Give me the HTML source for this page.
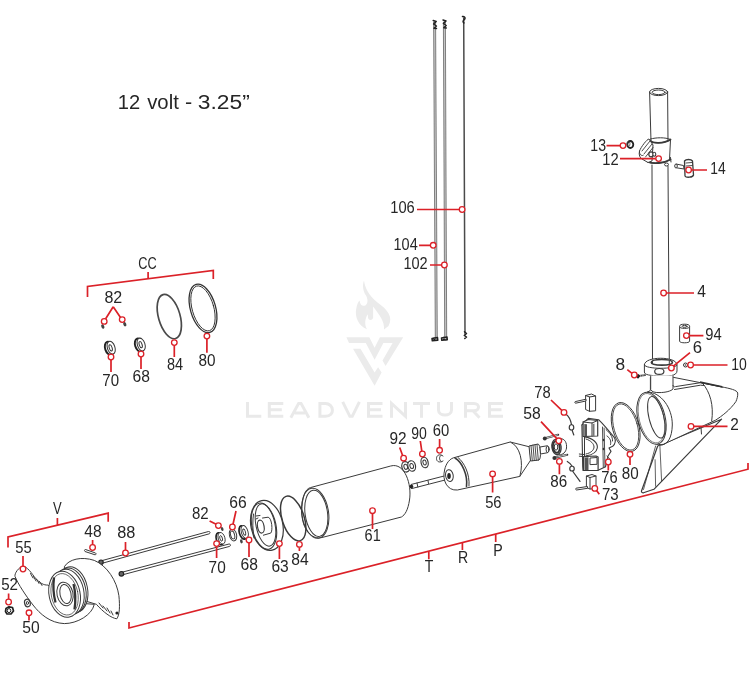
<!DOCTYPE html>
<html><head><meta charset="utf-8">
<style>
html,body{margin:0;padding:0;background:#fff;width:750px;height:700px;overflow:hidden}
svg{display:block;will-change:transform}
text{font-family:"Liberation Sans",sans-serif;fill:#262626}
.p{fill:none;stroke:#3a3a3a;stroke-width:1;stroke-linejoin:round;stroke-linecap:round}
.pf{fill:#fff;stroke:#3a3a3a;stroke-width:1;stroke-linejoin:round}
.r{fill:none;stroke:#db2128;stroke-width:1.7;stroke-linecap:butt}
.c{fill:#fff;stroke:#db2128;stroke-width:1.3}
.lb{font-size:16px}
.wm{fill:#ebebeb}
</style></head>
<body>
<svg width="750" height="700" viewBox="0 0 750 700">
<!-- watermark -->
<g class="wm">
<path d="M364 280.5 C365 288 368.5 295 377.5 302.5 C387.5 309.5 393.5 317 388.5 326 L384 329.5 C384.7 321.2 379.3 315 373.1 306.5 L373.1 318.1 C372.4 320.4 368.5 320.8 368.1 318.1 L367.7 314.3 C365.4 318.1 363.9 324.3 367 329.3 C358.5 325.8 354.6 316.6 356.2 308.9 C356.9 304.2 358.5 301.1 359.6 300.4 C360 304.2 361.6 306.2 364.3 305.8 C367.7 305 368.5 300.4 366.2 295.7 C362.8 291 362.3 285 364 280.5Z"/>
<path d="M346.4 337.3 L369.3 337.3 L374.6 347.8 L379.9 337.3 L403.2 337.3 L385.6 365.9 L382.5 360.6 L392.6 343 L383.4 343 L374.6 359.7 L365.8 343 L349 343Z"/>
<path d="M353 348.7 L360.5 348.7 L374.6 372.5 L378.1 367.2 L381.6 372.5 L374.6 385.7Z"/>
<path d="M247.5 401.9 L247.5 416.3 L261.3 416.3 M283.3 403.4 L269.3 403.4 L269.3 416.3 L283.3 416.3 M269.3 409.8 L281.8 409.8 M290.8 417.8 L298.65000000000003 403.4 L301.05 403.4 L308.9 417.8 M294.8 412.9 L304.9 412.9 M319.9 403.4 L319.9 416.3 L325.4 416.3 C335.7 416.3 333.7 403.4 325.4 403.4 Z M342.7 401.9 L349.84999999999997 416.3 L352.24999999999994 416.3 L359.4 401.9 M382.5 403.4 L368.5 403.4 L368.5 416.3 L382.5 416.3 M368.5 409.8 L381.0 409.8 M391.5 417.8 L391.5 403.4 L405.5 416.3 L405.5 401.9 M413 403.4 L430 403.4 M421.5 403.4 L421.5 417.8 M438.5 401.9 L438.5 410 C438.5 416.8 451.5 416.8 451.5 410 L451.5 401.9 M465.5 417.8 L465.5 403.4 L474 403.4 C480 403.4 480 410.8 474 410.8 L465.5 410.8 M473 410.8 L479.5 417.8 M503 403.4 L489.5 403.4 L489.5 416.3 L503 416.3 M489.5 409.8 L501.5 409.8" fill="none" stroke="#e9e9e9" stroke-width="3" stroke-linejoin="miter"/>
</g>

<!-- title -->
<g style="font-size:20.5px">
<text x="117.8" y="109.3" textLength="22.4" lengthAdjust="spacingAndGlyphs">12</text>
<text x="147.2" y="109.3" textLength="31.6" lengthAdjust="spacingAndGlyphs">volt</text>
<text x="185" y="109.3" textLength="7.2" lengthAdjust="spacingAndGlyphs">-</text>
<text x="197.8" y="109.3" textLength="52" lengthAdjust="spacingAndGlyphs">3.25”</text>
</g>

<!-- long red bracket -->

<!-- CC bracket -->

<!-- V bracket -->

<!-- rods 102 104 106 -->
<path d="M433.6 22 L435.3 340 L437.3 340 L435.6 22Z" fill="#c8c8c8" stroke="#555" stroke-width="0.7"/>
<path d="M443.4 22 L444.7 340 L446.7 340 L445.4 22Z" fill="#c8c8c8" stroke="#555" stroke-width="0.7"/>
<path class="p" d="M463.7 18 L465 334" style="stroke-width:1.5;stroke:#4a4a4a"/>
<g fill="none" stroke="#222" stroke-width="1.5" stroke-linecap="round" stroke-linejoin="round">
<path d="M433.2 20.5 L436.2 21.5 L433.6 24 L436.4 26 L434 28.2 L436.5 28.5"/>
<path d="M443 20 L446 21 L443.4 23.5 L446.2 25.5 L443.8 27.8 L446.3 28"/>
<path d="M462.5 16.5 C465 16 466 18.5 464 20 C462.5 21 463 22.5 464 23"/>
<path d="M432 338.5 L437.5 337.5 L437.8 340.3 L432.3 340.8 Z M434 338 L434.3 340.5"/>
<path d="M441.5 338 L447 337 L447.3 339.8 L441.8 340.3 Z M443.5 337.5 L443.8 340"/>
<path d="M464.5 331.8 L466.5 333.5 L464.3 335.5 L466.5 337 L464.8 338.5"/>
</g>


<!-- POLE -->
<g>
<!-- upper tube -->
<path class="p" d="M649.6 92 L651 141 M667.6 92 L668 141"/>
<ellipse class="p" cx="658.6" cy="92" rx="9" ry="3.6"/>
<ellipse class="p" cx="658.6" cy="92.3" rx="6.5" ry="2.3"/>
<!-- clamp collar 12 -->
<path class="pf" d="M650 140.5 C652 143.5 664 144 670.5 139.5 L669.5 160 C664 163.5 653 164 648 162 Z"/>
<path class="p" d="M650 140.5 C652 143.5 664 144 670.5 139.5" style="stroke-width:1.8"/>
<path class="p" d="M650.5 139 C656 137.5 665 137 670.5 139.5" style="stroke-width:1"/>
<path class="p" d="M648 162 C653 164 664 163.5 670.5 159.5" style="stroke-width:1.8"/>
<path class="p" d="M670.5 157.5 L671 162"/>
<ellipse class="pf" cx="666.5" cy="164.5" rx="2" ry="1.5"/>
<path class="pf" d="M649 139 C647 139 641 147 639.5 151 C638.5 155 640 158 642 159 L648 162.5 L652 161 L653 145 Z"/>
<path class="p" d="M642 151 L650 141 M644 154 L652 144 M645.5 157 L653 147.5" style="stroke-width:0.9"/>
<path class="p" d="M639.5 151 C639 154 641 156 643 155.5"/>
<ellipse class="pf" cx="651" cy="154.3" rx="2.2" ry="2.5" style="stroke-width:1.2"/>
<ellipse class="pf" cx="654.3" cy="154.3" rx="1.5" ry="2" style="stroke-width:1.1"/>
<!-- 13 nut -->
<ellipse cx="630.3" cy="144.5" rx="3" ry="3.5" fill="#fff" stroke="#222" stroke-width="1.8"/>
<ellipse cx="628.5" cy="143.8" rx="1.5" ry="2.5" fill="none" stroke="#444" stroke-width="0.8"/>
<!-- 14 knob -->
<path class="pf" d="M676 164 L683.5 165.5 L684 169 L676.5 167.8 Z"/>
<ellipse class="pf" cx="676" cy="166" rx="1.3" ry="2" style="stroke-width:1"/>
<path class="pf" d="M684.5 161 C686 159 691 159 692.5 161 L693.5 175 C693 177.5 686 178 685 176 Z" style="stroke-width:1.3"/>
<path class="p" d="M686 163 L692 162.5 M686.3 166 L692.5 165.5" style="stroke-width:0.9"/>
<!-- lower tube -->
<path class="p" d="M652 165 L652.5 361 M668 166 L669.3 361"/>
<!-- collar 6 -->
<path class="pf" d="M644.4 365 C644.4 356 677 356 677 365 L677 370.9 C677 376 668 376.5 660 376 C650 375.5 644.4 375 644.4 372 Z"/>
<path class="p" d="M644.4 365 C645 369.5 676.5 369.5 677 365"/>
<path class="pf" d="M651.3 362.5 C651.3 358.5 672.4 358.5 672.4 362.5 C672.4 366 651.3 366 651.3 362.5Z" style="stroke-width:1.6"/>
<path class="p" d="M652.5 361 L652.5 363.5 M669.3 361 L669.3 363.5"/>
<ellipse class="pf" cx="659.3" cy="371.4" rx="4.6" ry="2.9" style="stroke-width:1.2"/>
<!-- neck -->
<!-- 94 -->
<path class="pf" d="M679.6 326.3 L679.6 341.3 C680 343.3 689.2 343.3 689.6 341.3 L689.6 326.3"/>
<ellipse class="pf" cx="684.6" cy="326.3" rx="5" ry="2.1"/>
<ellipse class="p" cx="684.6" cy="326.3" rx="2.5" ry="1"/>
<!-- 8 bolt -->
<path d="M639 376 L645 375.2" stroke="#333" stroke-width="1.8" stroke-linecap="round"/>
<path d="M640.5 374.8 L640.7 377 M642.2 374.6 L642.4 376.8 M643.8 374.4 L644 376.6" stroke="#fff" stroke-width="0.5"/>
<ellipse cx="638" cy="376.2" rx="1.5" ry="2.2" fill="#222"/>
<!-- 10 washer -->
<circle cx="685.5" cy="365" r="2" fill="#fff" stroke="#333" stroke-width="1"/>
<circle cx="685.5" cy="365" r="0.7" fill="#333"/>
</g>

<!-- HOUSING 2 -->
<g>
<path class="pf" d="M657.7 446 L641.4 491.2 C641.5 492.5 642.5 493 643.5 492.8 L653.9 489.3 L721.6 419.2 Z" style="stroke-width:1.2"/>
<path class="p" d="M655.6 446 L643.5 489.5 M659.9 446 L661.6 481.1 M655.1 459.7 L655.6 486.3" style="stroke-width:0.8"/>
<path class="pf" d="M650.4 377.4 L673.7 377.4 L721 386.7 C730 388.5 737 390 737.7 393 C738 396 737 399 735.9 401.6 C730 410 722 416 715.5 420.2 L663.4 444.3 C655 446 645 440 640 425 C636 410 640 395 650.4 390.4 Z"/>

<path class="pf" d="M650.7 375.5 L650.7 389.7 C652 392 655 392.6 659 392.6 C666 392.6 671 391 673 389 L673 375.5"/>
<path class="p" d="M673 385.5 C673.5 387 674.5 387 675.5 386.6 L700.5 382.7 L722.5 387.2 M674.5 389.5 L700.5 385.2 L704 385.5"/>
<path class="p" d="M702.7 383.4 C710 392 714 405 711.7 421"/>
<path d="M700 382 L722 386.7" stroke="#333" stroke-width="1.6"/>
<path class="p" d="M701 427.5 L701.5 434"/>
<ellipse class="pf" cx="651.5" cy="418.2" rx="13.6" ry="26.6" transform="rotate(-14 651.5 418.2)"/>
<path class="p" d="M647.5 392 C661 392 672.5 408 672.3 425 C672 438 667.5 445 660.6 445.2"/>
<ellipse class="p" cx="656.4" cy="417.3" rx="7.4" ry="21.3" transform="rotate(-14 656.4 417.3)"/>
<ellipse class="p" cx="651.5" cy="418.2" rx="12.3" ry="25.3" transform="rotate(-14 651.5 418.2)" style="stroke-width:0.6"/>
</g>
<!-- 80 o-ring at housing -->
<ellipse class="p" cx="625.7" cy="427" rx="13.2" ry="25.2" transform="rotate(-16 625.7 427)" style="stroke-width:0.9;stroke:#333"/>
<ellipse class="p" cx="625.7" cy="427" rx="11.8" ry="23.8" transform="rotate(-16 625.7 427)" style="stroke-width:0.8;stroke:#333"/>

<!-- pole labels -->


<!-- CC group -->
<ellipse class="p" cx="169.3" cy="316.6" rx="10.8" ry="22.8" transform="rotate(-16 169.3 316.6)" style="stroke-width:1.7;stroke:#4a4a4a"/>
<ellipse class="p" cx="203" cy="308.4" rx="12.6" ry="25" transform="rotate(-16 203 308.4)" style="stroke-width:1.3;stroke:#333"/>
<ellipse class="p" cx="203" cy="308.4" rx="10.8" ry="23.2" transform="rotate(-16 203 308.4)" style="stroke-width:0.9;stroke:#333"/>
<g transform="translate(110.3 348.0) rotate(-18) scale(1.0)"><ellipse cx="-1.2" cy="0" rx="4" ry="6.8" fill="#fff" stroke="#222" stroke-width="1.9"/><ellipse cx="0.9" cy="0" rx="3.8" ry="6.6" fill="#fff" stroke="#333" stroke-width="1"/><ellipse cx="0.4" cy="0" rx="1.4" ry="3.2" fill="none" stroke="#333" stroke-width="1"/></g>
<g transform="translate(140.3 344.8) rotate(-18) scale(1.0)"><ellipse cx="-1.2" cy="0" rx="4" ry="6.8" fill="#fff" stroke="#222" stroke-width="1.9"/><ellipse cx="0.9" cy="0" rx="3.8" ry="6.6" fill="#fff" stroke="#333" stroke-width="1"/><ellipse cx="0.4" cy="0" rx="1.4" ry="3.2" fill="none" stroke="#333" stroke-width="1"/></g>
<ellipse cx="102.8" cy="326.5" rx="1.5" ry="2.3" fill="#444" transform="rotate(-20 102.8 326.5)"/>
<ellipse cx="124.8" cy="324.2" rx="1.5" ry="2.3" fill="#444" transform="rotate(-20 124.8 324.2)"/>

<!-- MOTOR CAN 61 -->
<path class="pf" d="M310.4 487.6 L390.7 466 C405 462 412 485 409.5 500 C408 510 405 515 401.4 517 L322 537.5 C312 540 302 530 301.8 512 C302 497 305 489 310.4 487.6Z"/>
<ellipse class="p" cx="315.2" cy="513.3" rx="13.4" ry="25.2" transform="rotate(-8 315.2 513.3)"/>
<ellipse class="p" cx="316.3" cy="513.3" rx="11.2" ry="23.3" transform="rotate(-8 316.3 513.3)"/>
<!-- 84 o-ring -->
<ellipse class="p" cx="293.2" cy="518.5" rx="11" ry="23.3" transform="rotate(-18 293.2 518.5)" style="stroke-width:1.5;stroke:#3a3a3a"/>
<!-- END CAP 63 -->
<g>
<ellipse class="pf" cx="266.9" cy="525.4" rx="15.9" ry="25.3" transform="rotate(-12 266.9 525.4)" style="stroke-width:1.2"/>
<ellipse class="p" cx="264" cy="526.2" rx="12" ry="23.5" transform="rotate(-12 264 526.2)" style="stroke-width:1.1"/>
<ellipse class="p" cx="265.5" cy="525" rx="9.5" ry="21.5" transform="rotate(-12 265.5 525)"/>
<path class="p" d="M253.5 514 C252.5 520 252.5 530 254 538"/>
<path class="pf" d="M262.1 518.1 L268.1 517.2 C272 518 273 531 270.7 533.1 L263 535.3"/>
<ellipse class="pf" cx="260.8" cy="526.6" rx="3.3" ry="6.5" transform="rotate(-10 260.8 526.6)" style="stroke-width:1.2"/>
<path class="p" d="M256 516 L260 515.5 M256 519 L258 518"/>
</g>
<!-- RODS 88 -->
<path class="pf" d="M100.5 561 L208.5 531.5 C210 531 210.7 533.3 209.3 533.8 L101.3 563.5 Z"/>
<path class="pf" d="M121 572.5 L229 544 C230.5 543.6 231 546 229.6 546.4 L121.8 575 Z"/>
<circle cx="101" cy="562.2" r="2.2" fill="#666" stroke="#222" stroke-width="1.2"/>
<circle cx="121.4" cy="573.8" r="2.3" fill="#666" stroke="#222" stroke-width="1.2"/>
<!-- bearings 70 68 66 82 -->
<g transform="translate(220.8 538.5) rotate(-16) scale(0.88 0.9)"><ellipse cx="-1.2" cy="0" rx="4" ry="6.8" fill="#fff" stroke="#222" stroke-width="1.9"/><ellipse cx="0.9" cy="0" rx="3.8" ry="6.6" fill="#fff" stroke="#333" stroke-width="1"/><ellipse cx="0.4" cy="0" rx="1.4" ry="3.2" fill="none" stroke="#333" stroke-width="1"/></g>
<g transform="translate(243.9 532.2) rotate(-16) scale(0.88 1.0)"><ellipse cx="-1.2" cy="0" rx="4" ry="6.8" fill="#fff" stroke="#222" stroke-width="1.9"/><ellipse cx="0.9" cy="0" rx="3.8" ry="6.6" fill="#fff" stroke="#333" stroke-width="1"/><ellipse cx="0.4" cy="0" rx="1.4" ry="3.2" fill="none" stroke="#333" stroke-width="1"/></g>
<ellipse class="p" cx="233" cy="535" rx="3.6" ry="6" transform="rotate(-14 233 535)"/>
<ellipse class="p" cx="232.6" cy="535" rx="2" ry="4" transform="rotate(-14 232.6 535)"/>
<ellipse cx="222.2" cy="529" rx="1.3" ry="2.1" fill="#444" transform="rotate(-15 222.2 529)"/>
<ellipse cx="241.4" cy="541.3" rx="1.3" ry="2.1" fill="#444" transform="rotate(-15 241.4 541.3)"/>


<!-- washers 92 90 60 -->
<g transform="rotate(-14 405.7 466.8)"><ellipse class="pf" cx="405.7" cy="466.8" rx="3.8" ry="5.3" style="stroke-width:1.2"/><ellipse class="p" cx="405.7" cy="466.8" rx="1.8" ry="2.6"/></g>
<g transform="rotate(-14 411.7 466)"><ellipse class="pf" cx="411.7" cy="466" rx="3.8" ry="5.3" style="stroke-width:1.2"/><ellipse class="p" cx="411.7" cy="466" rx="1.8" ry="2.6"/></g>
<g transform="rotate(-14 424.6 462.5)"><ellipse class="pf" cx="424.6" cy="462.5" rx="3.5" ry="5.3" style="stroke-width:1.2"/><ellipse class="p" cx="424.6" cy="462.5" rx="1.6" ry="2.5"/></g>
<path class="p" d="M443 456 C440 453.5 436.5 455 436.5 458.5 C436.5 462 440 463 443 461 M441 455.5 C439 456 439 460 441 461.5"/>

<!-- ARMATURE 56 -->
<path class="pf" d="M411 484.5 L448 475 L449 479 L412 488.5 C410 489 409.5 485 411 484.5Z"/>
<circle cx="411.5" cy="486.6" r="1.8" fill="#222"/>
<path class="p" d="M417 483 L417.8 487 M428 480.5 L428.5 483.5"/>
<path class="pf" d="M510.2 442 L529.4 446.8 L531 459.6 L519.8 476.4 Z"/>
<path class="pf" d="M455.8 457.2 L510.2 442 C520 446 524 462 519.8 476.4 L457.4 490 C447 491 442 480 444.6 470 C446 463 450 458 455.8 457.2Z"/>
<path class="p" d="M455 458 C462 462 468 475 466.5 486.5" style="stroke-width:1.6"/>
<path class="p" d="M458 457.5 C464 462 470 474 469 486"/>
<ellipse class="pf" cx="449.4" cy="475.6" rx="3.8" ry="6" transform="rotate(-10 449.4 475.6)"/>
<ellipse cx="449" cy="476" rx="1.8" ry="3" fill="#222"/>
<path class="pf" d="M529 446 L538 444 C540.5 444 541.5 459 539 460 L530.5 461Z"/>
<path class="p" d="M531 445.5 L532.3 460.7 M533 445 L534.3 460.5 M535 444.8 L536.3 460.3 M537 444.4 L538.3 460.1" style="stroke-width:0.9"/>
<path class="pf" d="M540 447 L547 445.8 C549.5 446 549.5 452.5 547 452.8 L540.5 454Z"/>
<ellipse class="p" cx="547.6" cy="449.3" rx="1.5" ry="3.3"/>
<!-- BRUSH ASSY -->
<!-- 58 bearing + bolts -->
<path d="M545 438.3 L558.2 434.7 M554.5 457.7 L567.3 454.7" stroke="#333" stroke-width="2" stroke-linecap="round"/>
<path d="M546 438 L558 434.8 M555.5 457.4 L567 454.8" stroke="#fff" stroke-width="0.7"/>
<circle cx="544.8" cy="438.6" r="2" fill="#333"/>
<circle cx="554.5" cy="458" r="2.1" fill="#333"/>
<path class="pf" d="M556 439.5 L560 438.6 C565 438.5 567 443 566.5 448 C566 452 563 455 559 454.7 L556.5 455"/>
<ellipse class="pf" cx="556.5" cy="447" rx="4.6" ry="7.6" transform="rotate(-8 556.5 447)" style="stroke-width:1.3"/>
<ellipse class="p" cx="556.3" cy="447" rx="3.3" ry="5.8" transform="rotate(-8 556.3 447)" style="stroke-width:1.9;stroke:#333;stroke-dasharray:1.2 0.8"/>
<ellipse cx="556" cy="447" rx="1.8" ry="3.2" fill="#fff" stroke="#333" stroke-width="1"/>
<!-- springs 78 -->
<path class="p" d="M565.8 414 C568.5 416 570.5 419 571.5 424.5 C568.5 425 568.5 430 571.5 430 C574.5 430 574.5 425 571.5 424.5 M572 430 L573.8 435" style="stroke-width:1.2"/>
<path class="p" d="M567.3 461.4 C570 463 571.5 465 572 466 C569 466.5 569 471 572 471 C575 471 575 466.5 572 466 M572.5 471 L580 481.4" style="stroke-width:1.2"/>
<!-- brushes 73 -->
<path class="pf" d="M585.6 395.5 L591.5 394 L595.6 396 L595.6 410.8 L589.5 411.3 L585.6 409.5Z"/>
<path class="p" d="M589.5 397 L589.5 411.3 M585.6 395.5 L589.5 397 L595.6 396"/>
<path class="pf" d="M575.2 401.6 L586 399.2 L586 401 L575.6 403.2 C574.6 403.2 574.6 401.8 575.2 401.6Z"/>
<path class="pf" d="M586.4 476 L592 474.5 L596 476 L596 488.4 L590 489 L586.4 487.5Z"/>
<path class="p" d="M590 477.5 L590 489 M586.4 476 L590 477.5 L596 476"/>
<path class="pf" d="M576.1 488.2 L587.5 486.5 L587.5 488.3 L576.5 490 C575.5 490 575.5 488.4 576.1 488.2Z"/>
<!-- brush holder 76 -->
<path class="pf" d="M581.9 424.9 L588.3 418.4 L598.6 419.7 C603 424 609 431 614.4 437.7 C616 440 615.5 444 612.7 446.3 L609 448 L611 451.4 L608 456 L605.5 466.8 L598.1 470.3 L583 470.5 L582.7 466.8 Z" style="stroke-width:1.1"/>
<path class="p" d="M584.5 425 L584.5 468 M581.9 424.9 L583.5 424"/>
<path class="pf" d="M583.1 422 L588.3 419.5 L597.7 420.5 L597.7 436 L583.1 436.5Z" style="stroke-width:1.2"/>
<path class="p" d="M583.1 422 L592 423 L597.7 420.5 M592 423 L592 436"/>
<path d="M584.3 424 L587 424.3 L587 436 L584.3 436.3Z" fill="#555"/>
<path d="M592.8 424 L594.5 423.5 L594.5 436 L592.8 436Z" fill="#777"/>
<path class="p" d="M584.4 436.9 C593 438 598 443 597.3 448 C596.5 452 592 455 586.1 455.7" style="stroke-width:1.1"/>
<path class="p" d="M586 439 C591 440.5 594 444 594 447 C594 450 591 453 586 454"/>
<path class="pf" d="M583.6 456.6 L596 456 L598.1 457 L598.1 470.3 L583.6 470.5 Z" style="stroke-width:1.2"/>
<path d="M584.6 457.5 L588.5 457.3 L588.5 470 L584.6 470Z" fill="#555"/>
<path class="p" d="M590.4 458 L597 457.5 L597 464.3 L590.4 464.6Z"/>
<path class="p" d="M604.1 428 L605 466.8 M602.5 427 L603.3 467" style="stroke-width:0.9"/>
<path class="p" d="M606 429.5 C610 433 613 437 612.5 441 M607 436 C610 438 611.5 441 610.5 444.5"/>
<path class="p" d="M579.3 454 L583.6 454.5 M579.3 456.2 L583.6 456.6"/>
<ellipse cx="603.5" cy="440" rx="0.9" ry="1.2" fill="#333"/>
<ellipse cx="603.5" cy="449" rx="0.9" ry="1.2" fill="#333"/>
<path class="p" d="M607 456 L609.5 459 L605.5 462"/>

<!-- PROPELLER GROUP -->
<g>
<path class="pf" d="M64.3 566.8 C68.6 559.3 81.4 556.1 94.3 560.4 C107.1 565.7 116.8 580.7 118.9 595.7 C120 606.4 119.6 615 116.8 618.8 C111.4 618.2 102.9 611.8 96.4 604.3 L85.7 601.1 L70 600 Z"/>
<path class="pf" d="M15 576.4 C14.3 573.6 18.6 567.1 22.9 566.4 C27.1 566.4 31.4 572.9 35.7 578.6 C40 582.9 43.6 585.4 47.9 585 L64.3 602.1 L94.3 604.3 C92.1 615 77.1 623.6 64.3 623.6 C50 623 40 614 33 605 C26 596 18 584 15 576.4Z"/>
<ellipse class="pf" cx="73" cy="589.5" rx="14.5" ry="23" transform="rotate(-12 73 589.5)"/>
<ellipse class="p" cx="70.8" cy="590.8" rx="15" ry="23" transform="rotate(-12 70.8 590.8)"/>
<ellipse class="pf" cx="68.5" cy="592" rx="15.3" ry="23.1" transform="rotate(-12 68.5 592)"/>
<ellipse class="pf" cx="64.6" cy="594.3" rx="15.5" ry="23.2" transform="rotate(-12 64.6 594.3)"/>
<ellipse class="p" cx="64.6" cy="594.3" rx="13.3" ry="21" transform="rotate(-12 64.6 594.3)" style="stroke-width:0.7"/>
<ellipse class="p" cx="65" cy="594" rx="8" ry="12" transform="rotate(-12 65 594)"/>
<ellipse class="p" cx="65.5" cy="594" rx="5.5" ry="9.7" transform="rotate(-12 65.5 594)"/>
<path d="M54 577.5 C53 585 53.5 595 55.5 602.5 M73.5 584 C75.5 592 75.8 601 74.5 609.5" stroke="#333" stroke-width="2.3" fill="none"/>
<path class="p" d="M30.5 573.5 L33 578 M33.5 576.5 L36 581 M36.5 579 L39 583.5 M39.5 581.5 L42 585.5 M99 603 L103 608 M103 606 L107 611 M107 608 L110 613 M111 611 L113 615"/>
<circle cx="117" cy="613" r="1.6" fill="#222"/>
</g>
<!-- 48 pin -->
<path class="pf" d="M85.5 549.5 L95.5 553 C96.5 553.5 96 555 95 554.8 L85 551.5 C84 551 84.5 549.2 85.5 549.5Z"/>
<!-- 52 nut -->
<path d="M6 608.5 L9 606.8 L12.5 607.5 L13.5 611 L11 614 L7 614 L5.5 611.5Z" fill="#fff" stroke="#222" stroke-width="1.7" stroke-linejoin="round"/>
<ellipse cx="9" cy="610.6" rx="1.8" ry="2" fill="none" stroke="#222" stroke-width="1"/>
<!-- 50 washer -->
<ellipse class="pf" cx="27.4" cy="603" rx="2.8" ry="3.8" transform="rotate(-15 27.4 603)" style="stroke-width:1.2"/>
<ellipse class="p" cx="27.4" cy="603" rx="1.1" ry="1.6"/>

<!-- LABELS -->
<text class="lb" x="390.22" y="213.4" textLength="24.48" lengthAdjust="spacingAndGlyphs">106</text>
<text class="lb" x="393.58" y="250.0" textLength="24.12" lengthAdjust="spacingAndGlyphs">104</text>
<text class="lb" x="403.44" y="269.3" textLength="24.26" lengthAdjust="spacingAndGlyphs">102</text>
<text class="lb" x="590.30" y="150.6" textLength="15.68" lengthAdjust="spacingAndGlyphs">13</text>
<text class="lb" x="602.30" y="164.6" textLength="16.40" lengthAdjust="spacingAndGlyphs">12</text>
<text class="lb" x="710.30" y="174.2" textLength="15.40" lengthAdjust="spacingAndGlyphs">14</text>
<text class="lb" x="697.30" y="296.6" textLength="8.68" lengthAdjust="spacingAndGlyphs">4</text>
<text class="lb" x="705.30" y="339.6" textLength="16.40" lengthAdjust="spacingAndGlyphs">94</text>
<text class="lb" x="692.80" y="353.3" textLength="9.30" lengthAdjust="spacingAndGlyphs">6</text>
<text class="lb" x="615.58" y="369.9" textLength="9.62" lengthAdjust="spacingAndGlyphs">8</text>
<text class="lb" x="731.22" y="369.9" textLength="15.54" lengthAdjust="spacingAndGlyphs">10</text>
<text class="lb" x="730.16" y="430.3" textLength="8.54" lengthAdjust="spacingAndGlyphs">2</text>
<text class="lb" x="621.80" y="479.2" textLength="16.90" lengthAdjust="spacingAndGlyphs">80</text>
<text class="lb" x="534.30" y="397.6" textLength="16.40" lengthAdjust="spacingAndGlyphs">78</text>
<text class="lb" x="523.22" y="418.6" textLength="17.48" lengthAdjust="spacingAndGlyphs">58</text>
<text class="lb" x="550.30" y="486.7" textLength="16.90" lengthAdjust="spacingAndGlyphs">86</text>
<text class="lb" x="601.30" y="482.6" textLength="16.32" lengthAdjust="spacingAndGlyphs">76</text>
<text class="lb" x="602.02" y="500.0" textLength="16.68" lengthAdjust="spacingAndGlyphs">73</text>
<text class="lb" x="389.44" y="444.3" textLength="17.12" lengthAdjust="spacingAndGlyphs">92</text>
<text class="lb" x="411.16" y="438.6" textLength="15.60" lengthAdjust="spacingAndGlyphs">90</text>
<text class="lb" x="432.66" y="435.6" textLength="16.46" lengthAdjust="spacingAndGlyphs">60</text>
<text class="lb" x="485.16" y="508.2" textLength="16.40" lengthAdjust="spacingAndGlyphs">56</text>
<text class="lb" x="364.58" y="541.4" textLength="16.12" lengthAdjust="spacingAndGlyphs">61</text>
<text class="lb" x="192.02" y="519.2" textLength="16.68" lengthAdjust="spacingAndGlyphs">82</text>
<text class="lb" x="229.30" y="508.0" textLength="17.40" lengthAdjust="spacingAndGlyphs">66</text>
<text class="lb" x="240.58" y="569.6" textLength="17.40" lengthAdjust="spacingAndGlyphs">68</text>
<text class="lb" x="208.58" y="572.6" textLength="17.12" lengthAdjust="spacingAndGlyphs">70</text>
<text class="lb" x="271.40" y="572.0" textLength="17.30" lengthAdjust="spacingAndGlyphs">63</text>
<text class="lb" x="291.30" y="565.2" textLength="17.40" lengthAdjust="spacingAndGlyphs">84</text>
<text class="lb" x="117.30" y="538.0" textLength="18.12" lengthAdjust="spacingAndGlyphs">88</text>
<text class="lb" x="84.30" y="537.0" textLength="17.26" lengthAdjust="spacingAndGlyphs">48</text>
<text class="lb" x="15.30" y="552.6" textLength="16.40" lengthAdjust="spacingAndGlyphs">55</text>
<text class="lb" x="1.20" y="589.6" textLength="16.80" lengthAdjust="spacingAndGlyphs">52</text>
<text class="lb" x="22.30" y="632.6" textLength="17.40" lengthAdjust="spacingAndGlyphs">50</text>
<text class="lb" x="138.30" y="268.5" textLength="18.40" lengthAdjust="spacingAndGlyphs">CC</text>
<text class="lb" x="104.44" y="302.6" textLength="17.84" lengthAdjust="spacingAndGlyphs">82</text>
<text class="lb" x="102.30" y="385.6" textLength="16.68" lengthAdjust="spacingAndGlyphs">70</text>
<text class="lb" x="132.58" y="382.4" textLength="17.40" lengthAdjust="spacingAndGlyphs">68</text>
<text class="lb" x="167.02" y="370.0" textLength="16.10" lengthAdjust="spacingAndGlyphs">84</text>
<text class="lb" x="198.58" y="365.7" textLength="17.04" lengthAdjust="spacingAndGlyphs">80</text>
<text class="lb" x="53.10" y="513.9" textLength="8.66" lengthAdjust="spacingAndGlyphs">V</text>
<text class="lb" x="424.74" y="572.4" textLength="8.60" lengthAdjust="spacingAndGlyphs">T</text>
<text class="lb" x="458.00" y="563.1" textLength="10.20" lengthAdjust="spacingAndGlyphs">R</text>
<text class="lb" x="493.22" y="555.6" textLength="9.48" lengthAdjust="spacingAndGlyphs">P</text>
<!-- /LABELS -->
<!-- LABEL LEADERS -->
<path class="r" d="M129 622 L129 628 L748 469.2 L748 463"/>
<path class="r" d="M428.8 551.5 L428.8 559.2 M462.4 542.6 L462.4 550 M495.7 534 L495.7 542"/>
<path class="r" d="M87.5 297 L87.5 286.4 L213.3 270.4 L213.3 279 M148.1 278 L148.1 272"/>
<path class="r" d="M8 547.5 L8 537 L108.2 513.2 L108.2 521.8 M57.4 525 L57.4 518"/>
<path class="r" d="M417 209.5 L459.3 209.5 M419 245.3 L430.4 245.3 M430 265 L441.6 265"/>
<circle class="c" cx="462.1" cy="209.5" r="2.8"/>
<circle class="c" cx="433.2" cy="245.3" r="2.8"/>
<circle class="c" cx="444.4" cy="265" r="2.8"/>
<path class="r" d="M606.5 145.6 L620.2 145.6 M620 158.6 L655.8 158.6 M707 170 L691.4 170 M666.4 293 L694 293 M689.2 335.6 L703.4 335.6 M690 352.6 L673.4 366.2 M627.3 369.7 L632 373.3 M727.5 365 L693.4 365 M694 426.4 L727.5 426.4 M630 457 L630 465"/>
<circle class="c" cx="623" cy="145.6" r="2.8"/>
<circle class="c" cx="658.6" cy="158.6" r="2.8"/>
<circle class="c" cx="688.6" cy="170" r="2.8"/>
<circle class="c" cx="663.6" cy="293" r="2.8"/>
<circle class="c" cx="686.4" cy="335.6" r="2.8"/>
<circle class="c" cx="671.4" cy="368" r="2.8"/>
<circle class="c" cx="634.3" cy="375" r="2.8"/>
<circle class="c" cx="690.6" cy="365" r="2.8"/>
<circle class="c" cx="691" cy="426.4" r="2.8"/>
<circle class="c" cx="630" cy="454.3" r="2.8"/>
<path class="r" d="M113.2 306.8 L105.5 319 M113.2 306.8 L120.5 317.5 M111 359.8 L111 372 M141 356.8 L141 369 M174.3 345.4 L174.3 357 M206.9 338.9 L206.9 352.8"/>
<circle class="c" cx="104.2" cy="321.4" r="2.8"/>
<circle class="c" cx="122.2" cy="319.6" r="2.8"/>
<circle class="c" cx="111" cy="357" r="2.8"/>
<circle class="c" cx="141" cy="354" r="2.8"/>
<circle class="c" cx="174.3" cy="342.6" r="2.8"/>
<circle class="c" cx="206.9" cy="336.1" r="2.8"/>
<path class="r" d="M209.6 521 L216.2 524.3 M236 511 L233 524.2 M249 542.8 L249 557 M216.6 546.4 L216.6 558 M279.4 546.4 L279.4 559 M299.4 547.2 L299.4 551 M125.5 542 L125.5 550.2 M372.5 513.5 L372.5 529 M92.6 540 L92.6 544.7"/>
<circle class="c" cx="218.4" cy="525.6" r="2.8"/>
<circle class="c" cx="232.4" cy="527" r="2.8"/>
<circle class="c" cx="249" cy="540" r="2.8"/>
<circle class="c" cx="216.6" cy="543.6" r="2.8"/>
<circle class="c" cx="279.4" cy="543.6" r="2.8"/>
<circle class="c" cx="299.4" cy="544.4" r="2.8"/>
<circle class="c" cx="372.5" cy="510.7" r="2.8"/>
<circle class="c" cx="125.5" cy="553" r="2.8"/>
<circle class="c" cx="92.6" cy="547.5" r="2.8"/>
<path class="r" d="M399.7 447.5 L402.6 455.5 M420.3 441 L421.8 451.2 M439.6 439 L439.6 447.5 M492.6 476.7 L492.6 492.5"/>
<circle class="c" cx="403.6" cy="458.2" r="2.8"/>
<circle class="c" cx="422.4" cy="454" r="2.8"/>
<circle class="c" cx="439.6" cy="450.3" r="2.8"/>
<circle class="c" cx="492.6" cy="473.9" r="2.8"/>
<path class="r" d="M551 400 L561.8 410.4 M541 421.6 L556.8 438.6 M559.4 464.2 L559.4 474.3 M608.3 464.8 L608.3 470.4 M599.3 494.2 L596.6 490.4"/>
<circle class="c" cx="564" cy="412.4" r="2.8"/>
<circle class="c" cx="558.8" cy="440.8" r="2.8"/>
<circle class="c" cx="559.4" cy="461.4" r="2.8"/>
<circle class="c" cx="608.3" cy="462" r="2.8"/>
<circle class="c" cx="594.8" cy="488.4" r="2.8"/>
<path class="r" d="M23 556 L23 566.2 M8.6 593.6 L8.6 599.2 M29 615.6 L29 620.4"/>
<circle class="c" cx="23" cy="569" r="2.8"/>
<circle class="c" cx="8.6" cy="602" r="2.8"/>
<circle class="c" cx="29" cy="612.8" r="2.8"/>
</svg>
</body></html>
